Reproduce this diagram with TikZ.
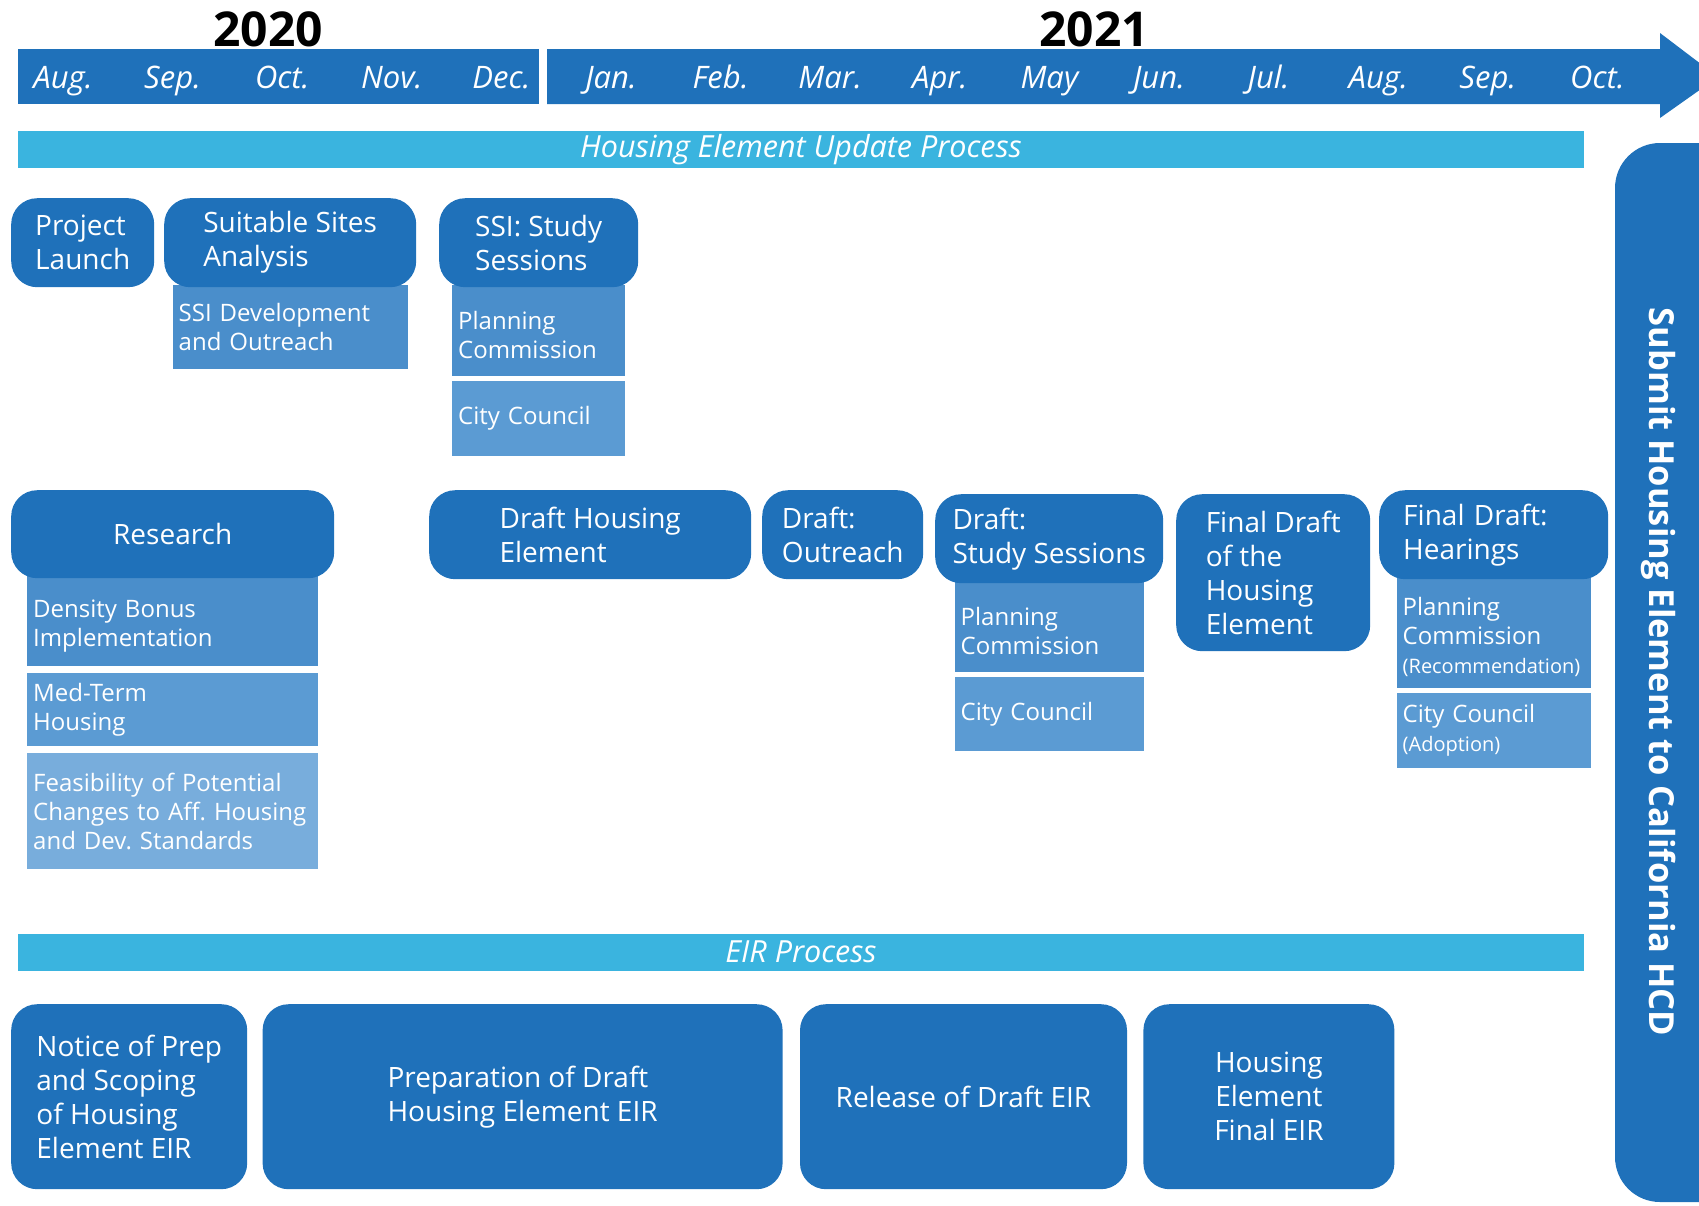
\documentclass[tikz,border=0pt]{standalone}
\usepackage{fontspec}
\setmainfont{Open Sans}
\usetikzlibrary{positioning,backgrounds}
\frenchspacing

\definecolor{heblue}{HTML}{1F71BA}
\definecolor{taskA}{HTML}{4A8ECB}
\definecolor{taskB}{HTML}{5B9BD3}
\definecolor{taskC}{HTML}{78ADDC}
\definecolor{barcyan}{HTML}{3AB4DF}

\tikzset{
  phase/.style={fill=heblue, text=white, rounded corners=26pt, align=left,
    inner sep=0pt, font=\fontsize{28}{34}\selectfont},
  eir/.style={phase, minimum height=185pt},
  task/.style={fill=taskA, text=white, align=left, inner xsep=6pt, inner ysep=0pt,
    font=\fontsize{24}{29}\selectfont},
  lowered/.style={execute at begin node={\rule{0pt}{28pt}}},
  month/.style={text=white, anchor=base, font=\itshape\fontsize{31}{31}\selectfont},
  year/.style={anchor=base, font=\bfseries\fontsize{48}{48}\selectfont},
  band/.style={fill=barcyan, text=white, minimum width=1566pt, minimum height=37pt,
    inner sep=0pt, font=\itshape\fontsize{30.5}{30.5}\selectfont}}
\newcommand\note[1]{{\fontsize{20}{24}\selectfont #1}}

\begin{document}
\begin{tikzpicture}[x=1pt, y=-1pt]
  \useasboundingbox (0,0) rectangle (1699,1205);

  % months bar
  \fill[heblue] (18,49) rectangle (539,104);
  \fill[heblue] (547,49) -- (1660,49) -- (1660,33) -- (1718,77)
    -- (1660,118) -- (1660,104) -- (547,104) -- cycle;
  \node[year] (y2020) at (268,46) {2020};
  \node[year] (y2021) at (1094,46) {2021};
  \foreach \m [count=\i from 0] in {Aug.,Sep.,Oct.,Nov.,Dec.,Jan.,Feb.,Mar.,
      Apr.,May,Jun.,Jul.,Aug.,Sep.,Oct.}
    \node[month] (m\i) at (63+109.6*\i,88) {\m};

  \node[band] (heup) at (801,149.5) {Housing Element Update Process};
  \node[band] (eirp) at (801,952) {EIR Process};

  % submittal
  \fill[heblue, rounded corners=45pt] (1615,143) rectangle (1770,1202);
  \node[text=white, rotate=-90, font=\bfseries\fontsize{34.5}{34.5}\selectfont]
    (submit) at (1659,672) {Submit Housing Element to California HCD};

  % first row
  \node[phase, anchor=north west, minimum width=143pt, minimum height=89pt]
    (launch) at (11,198) {Project\\Launch};
  \node[phase, anchor=north west, minimum width=252pt, minimum height=89pt]
    (sites) at (164,198) {Suitable Sites\\Analysis};
  \node[phase, anchor=north west, minimum width=199pt, minimum height=89pt]
    (ssi) at (439,198) {SSI: Study\\Sessions};

  % second row
  \node[phase, anchor=north west, minimum width=323pt, minimum height=88pt]
    (research) at (11,490) {Research};
  \node[phase, anchor=north west, minimum width=322pt, minimum height=89pt]
    (draft) at (429,490) {Draft Housing\\Element};
  \node[phase, anchor=north west, minimum width=161pt, minimum height=89pt]
    (outreach) at (762,490) {Draft:\\Outreach};
  \node[phase, anchor=north west, minimum width=228pt, minimum height=89pt]
    (dss) at (935,494) {Draft:\\Study Sessions};
  \node[phase, anchor=north west, minimum width=194pt, minimum height=157pt]
    (final) at (1176,494) {Final Draft\\of the\\Housing\\Element};
  \node[phase, anchor=north west, text width=181pt, inner xsep=24pt,
    minimum height=89pt] (hearings) at (1379,490) {Final Draft:\\Hearings};

  % sub tasks sit under the rounded boxes
  \begin{scope}[on background layer]
    \node[task, below=-3pt of sites, text width=223pt, minimum height=84pt]
      (ssidev) {SSI Development\\and Outreach};
    \node[task, lowered, below=-3pt of ssi, text width=161pt, minimum height=91pt]
      (ssipc) {Planning\\Commission};
    \node[task, fill=taskB, below=5pt of ssipc, text width=161pt, minimum height=75pt]
      (ssicc) {City Council};

    \node[task, lowered, below=-3pt of research, text width=279pt, minimum height=90pt]
      (density) {Density Bonus\\Implementation};
    \node[task, fill=taskB, below=7pt of density, text width=279pt, minimum height=73pt]
      (medterm) {Med-Term\\Housing};
    \node[task, fill=taskC, below=7pt of medterm, text width=279pt, minimum height=116pt]
      (feasible) {Feasibility of Potential\\Changes to Aff. Housing\\and Dev. Standards};

    \node[task, lowered, below=-3pt of dss, text width=177pt, minimum height=91pt]
      (dsspc) {Planning\\Commission};
    \node[task, fill=taskB, below=5pt of dsspc, text width=177pt, minimum height=74pt]
      (dsscc) {City Council};

    \node[task, lowered, below=-3pt of hearings, text width=182pt, minimum height=111pt]
      (hearpc) {Planning\\Commission\\\note{(Recommendation)}};
    \node[task, fill=taskB, below=5pt of hearpc, text width=182pt, minimum height=75pt]
      (hearcc) {City Council\\\note{(Adoption)}};
  \end{scope}

  % EIR row
  \node[eir, anchor=north west, minimum width=236pt] (nop) at (11,1004)
    {Notice of Prep\\and Scoping\\of Housing\\Element EIR};
  \node[eir, right=15pt of nop, minimum width=520pt] (prep)
    {Preparation of Draft\\Housing Element EIR};
  \node[eir, right=17pt of prep, minimum width=327pt] (release)
    {Release of Draft EIR};
  \node[eir, right=16pt of release, minimum width=251pt, align=center] (feir)
    {Housing\\Element\\Final EIR};
\end{tikzpicture}
\end{document}
